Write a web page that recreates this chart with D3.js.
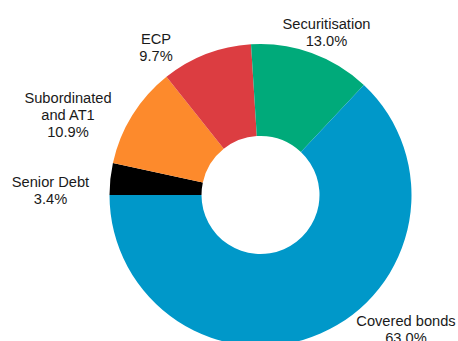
<!DOCTYPE html>
<html>
<head>
<meta charset="utf-8">
<script src="https://cdn.jsdelivr.net/npm/d3@7"></script>
<style>
  html, body { margin: 0; padding: 0; background: #fff; }
  svg { display: block; }
  text { font-family: "Liberation Sans", Arial, sans-serif; font-size: 14.67px; fill: #1a1a1a; }
</style>
</head>
<body>
<svg id="chart" width="458" height="341"></svg>
<script>
// Issuance mix by funding instrument (share of total, %)
const categories = ["Senior Debt", "Subordinated\nand AT1", "ECP", "Securitisation", "Covered bonds"];
const shares = [3.4, 10.9, 9.7, 13.0, 63.0];
const colors = ["#000000", "#fd8a2c", "#dc3d41", "#00aa7a", "#0098c9"];

const width = 458, height = 341;
const cx = 260.5, cy = 195;
const outerR = 151, innerR = 59;

// Label block anchors relative to the centre: [dx, dy of first baseline]
const labelOffsets = [
  [-210, -8],
  [-192.5, -92],
  [-104.5, -151],
  [66, -166],
  [145.5, 131]
];
const lineHeight = 17;

const svg = d3.select("#chart");
const g = svg.append("g").attr("transform", `translate(${cx},${cy})`);

// Slices start at 9 o'clock and run clockwise
const pie = d3.pie()
  .value(d => d.value)
  .sort(null)
  .startAngle(-Math.PI / 2)
  .endAngle(3 * Math.PI / 2);

const data = categories.map((c, i) => ({ name: c, value: shares[i], color: colors[i], off: labelOffsets[i] }));
const arcs = pie(data);

const arc = d3.arc().innerRadius(innerR).outerRadius(outerR);

g.selectAll("path.slice")
  .data(arcs)
  .join("path")
  .attr("class", "slice")
  .attr("d", arc)
  .attr("fill", d => d.data.color);

const fmt = d3.format(".1f");
const labels = g.selectAll("text.lbl")
  .data(arcs)
  .join("text")
  .attr("class", "lbl")
  .attr("text-anchor", "middle")
  .attr("transform", d => `translate(${d.data.off[0]},${d.data.off[1]})`);

labels.each(function(d) {
  const lines = d.data.name.split("\n").concat([fmt(d.data.value) + "%"]);
  d3.select(this).selectAll("tspan")
    .data(lines)
    .join("tspan")
    .attr("x", 0)
    .attr("y", (l, i) => i * lineHeight)
    .text(l => l);
});
</script>
</body>
</html>
